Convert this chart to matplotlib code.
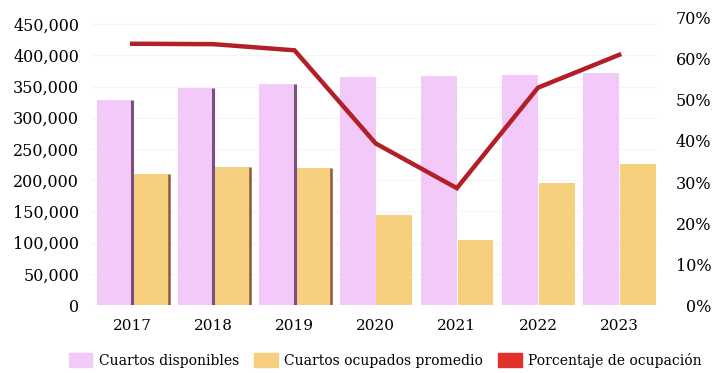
import numpy as np
import matplotlib.pyplot as plt
from matplotlib.patches import Patch
from matplotlib.ticker import FuncFormatter, PercentFormatter

years = ["2017", "2018", "2019", "2020", "2021", "2022", "2023"]
disponibles = [328000, 348000, 354000, 366000, 367000, 369000, 372000]
ocupados = [210000, 221000, 220000, 144000, 104000, 195000, 226000]
porcentaje = [0.637, 0.636, 0.621, 0.394, 0.285, 0.530, 0.610]

c_disp = "#f3c9f9"
c_ocup = "#f6d07e"
c_line = "#b31f27"
c_pct_leg = "#e2302a"

plt.rcParams["font.family"] = ["DejaVu Serif"]

fig = plt.figure(figsize=(7.16, 3.73), dpi=100)
ax = fig.add_axes([0.128, 0.182, 0.79, 0.77])
x = np.arange(len(years))
w = 0.44

b1 = ax.bar(x - 0.22, disponibles, w, color=c_disp, zorder=2)
b2 = ax.bar(x + 0.23, ocupados, w, color=c_ocup, zorder=2)

# dark edge strips on the right side of the first bars
for i in range(3):
    ax.vlines(x[i] - 0.22 + w / 2, 0, disponibles[i], color="#7b4f80", lw=2.2, zorder=3)
    ax.vlines(x[i] + 0.23 + w / 2, 0, ocupados[i], color="#8a5a3c", lw=1.8, zorder=3)

ax.set_xlim(-0.5, 6.47)
ax.set_ylim(0, 460000)
ax.set_yticks(np.arange(0, 450001, 50000))
ax.yaxis.set_major_formatter(FuncFormatter(lambda v, p: f"{int(v):,}"))
ax.set_xticks(x)
ax.set_xticklabels(years)
ax.tick_params(axis="y", length=0, labelsize=11.5, pad=9)
ax.tick_params(axis="x", length=0, labelsize=11, pad=10)
ax.grid(axis="y", color="#f5f5f5", lw=0.8, zorder=0)
for s in ax.spines.values():
    s.set_visible(False)

ax2 = ax.twinx()
ax2.plot(x, porcentaje, color=c_line, lw=3.2, solid_joinstyle="miter", zorder=5)
ax2.set_ylim(0, 0.70)
ax2.set_yticks(np.arange(0, 0.701, 0.1))
ax2.yaxis.set_major_formatter(PercentFormatter(1.0, decimals=0))
ax2.tick_params(axis="y", length=0, labelsize=11.5, pad=39)
for lab in ax2.get_yticklabels():
    lab.set_horizontalalignment("right")
for s in ax2.spines.values():
    s.set_visible(False)

handles = [Patch(color=c_disp), Patch(color=c_ocup), Patch(color=c_pct_leg)]
labels = ["Cuartos disponibles", "Cuartos ocupados promedio", "Porcentaje de ocupación"]
fig.legend(handles, labels, loc="lower center", bbox_to_anchor=(0.538, -0.02), ncol=3,
           frameon=False, fontsize=10, handlelength=1.7, handleheight=1.2,
           handletextpad=0.45, columnspacing=1.1)

fig.savefig("out.png", dpi=100)
